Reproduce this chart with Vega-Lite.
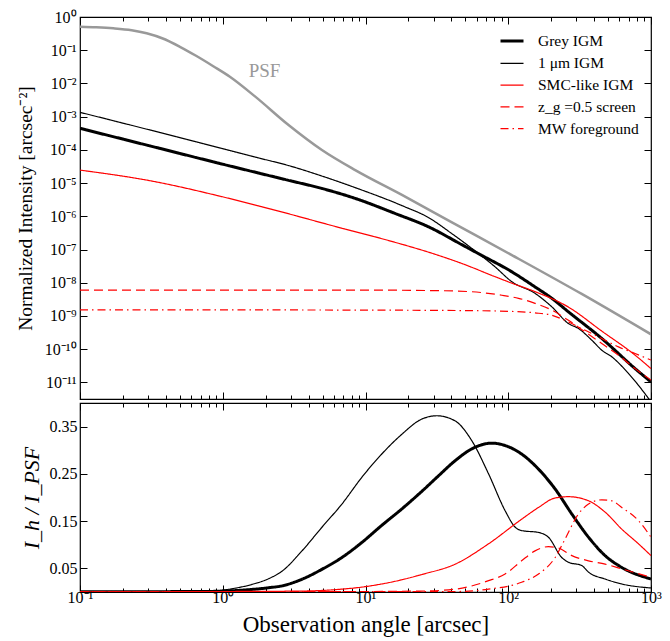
{
  "$schema": "https://vega.github.io/schema/vega-lite/v6.json",
  "padding": {"left": 14, "top": 8, "right": 20, "bottom": 5},
  "spacing": 0,
  "config": {
    "font": "Liberation Serif",
    "view": {"stroke": "black", "strokeWidth": 1.2},
    "axis": {"domainColor": "black", "domainWidth": 1.2, "tickColor": "black", "tickWidth": 1, "labelColor": "black", "titleColor": "black", "grid": false, "labelFont": "Liberation Serif", "titleFont": "Liberation Serif", "labelFontSize": 16, "titleFontWeight": "normal", "labelOverlap": false, "labelFlush": false},
    "legend": {"labelFont": "Liberation Serif"}
  },
  "datasets": {
    "top": [
      {"series": "PSF", "x": 0.1, "y": 0.51}, {"series": "PSF", "x": 0.13, "y": 0.49}, {"series": "PSF", "x": 0.171, "y": 0.457}, {"series": "PSF", "x": 0.23, "y": 0.40}, {"series": "PSF", "x": 0.293, "y": 0.323}, {"series": "PSF", "x": 0.38, "y": 0.225}, {"series": "PSF", "x": 0.501, "y": 0.127}, {"series": "PSF", "x": 0.65, "y": 0.068}, {"series": "PSF", "x": 0.858, "y": 0.033}, {"series": "PSF", "x": 1.122, "y": 0.0159}, {"series": "PSF", "x": 1.69, "y": 0.0040}, {"series": "PSF", "x": 2.89, "y": 5.6e-4}, {"series": "PSF", "x": 4.95, "y": 9.9e-5}, {"series": "PSF", "x": 8.47, "y": 2.46e-5}, {"series": "PSF", "x": 18, "y": 4.4e-6}, {"series": "PSF", "x": 40, "y": 6.7e-7}, {"series": "PSF", "x": 106, "y": 6.8e-8}, {"series": "PSF", "x": 327, "y": 4.6e-9}, {"series": "PSF", "x": 1000, "y": 2.8e-10},

      {"series": "Grey IGM", "x": 0.1, "y": 4.45e-4}, {"series": "Grey IGM", "x": 0.3, "y": 1.36e-4}, {"series": "Grey IGM", "x": 1, "y": 3.7e-5}, {"series": "Grey IGM", "x": 2.89, "y": 1.21e-5}, {"series": "Grey IGM", "x": 4.95, "y": 6.9e-6}, {"series": "Grey IGM", "x": 8.47, "y": 3.46e-6}, {"series": "Grey IGM", "x": 16.1, "y": 1.22e-6}, {"series": "Grey IGM", "x": 27.7, "y": 4.8e-7}, {"series": "Grey IGM", "x": 47.3, "y": 1.4e-7}, {"series": "Grey IGM", "x": 61.9, "y": 7.5e-8}, {"series": "Grey IGM", "x": 106, "y": 2.13e-8}, {"series": "Grey IGM", "x": 154, "y": 7.5e-9}, {"series": "Grey IGM", "x": 202, "y": 3.4e-9}, {"series": "Grey IGM", "x": 264, "y": 1.33e-9}, {"series": "Grey IGM", "x": 452, "y": 2.1e-10}, {"series": "Grey IGM", "x": 774, "y": 2.6e-11}, {"series": "Grey IGM", "x": 1000, "y": 1.03e-11},

      {"series": "1 μm IGM", "x": 0.1, "y": 1.35e-3}, {"series": "1 μm IGM", "x": 0.3, "y": 4.1e-4}, {"series": "1 μm IGM", "x": 1, "y": 1.09e-4}, {"series": "1 μm IGM", "x": 1.82, "y": 5.6e-5}, {"series": "1 μm IGM", "x": 2.89, "y": 3.37e-5}, {"series": "1 μm IGM", "x": 4.95, "y": 1.63e-5}, {"series": "1 μm IGM", "x": 8.47, "y": 7.3e-6}, {"series": "1 μm IGM", "x": 18, "y": 2.1e-6}, {"series": "1 μm IGM", "x": 27.7, "y": 9.1e-7}, {"series": "1 μm IGM", "x": 40.3, "y": 3.0e-7}, {"series": "1 μm IGM", "x": 55.6, "y": 1.08e-7}, {"series": "1 μm IGM", "x": 80.9, "y": 3.0e-8}, {"series": "1 μm IGM", "x": 106, "y": 1.07e-8}, {"series": "1 μm IGM", "x": 154, "y": 4.8e-9}, {"series": "1 μm IGM", "x": 202, "y": 1.88e-9}, {"series": "1 μm IGM", "x": 264, "y": 5.9e-10}, {"series": "1 μm IGM", "x": 310, "y": 4.2e-10}, {"series": "1 μm IGM", "x": 385, "y": 1.86e-10}, {"series": "1 μm IGM", "x": 452, "y": 9.3e-11}, {"series": "1 μm IGM", "x": 531, "y": 5.9e-11}, {"series": "1 μm IGM", "x": 695, "y": 1.86e-11}, {"series": "1 μm IGM", "x": 960, "y": 3.3e-12}, {"series": "1 μm IGM", "x": 1000, "y": 2.6e-12},

      {"series": "SMC-like IGM", "x": 0.1, "y": 2.46e-5}, {"series": "SMC-like IGM", "x": 0.319, "y": 1.15e-5}, {"series": "SMC-like IGM", "x": 0.987, "y": 3.9e-6}, {"series": "SMC-like IGM", "x": 2.21, "y": 1.62e-6}, {"series": "SMC-like IGM", "x": 6.3, "y": 4.8e-7}, {"series": "SMC-like IGM", "x": 16, "y": 1.66e-7}, {"series": "SMC-like IGM", "x": 27.7, "y": 8.3e-8}, {"series": "SMC-like IGM", "x": 47.3, "y": 3.8e-8}, {"series": "SMC-like IGM", "x": 80.9, "y": 1.52e-8}, {"series": "SMC-like IGM", "x": 106, "y": 9.7e-9}, {"series": "SMC-like IGM", "x": 154, "y": 5.4e-9}, {"series": "SMC-like IGM", "x": 264, "y": 1.85e-9}, {"series": "SMC-like IGM", "x": 452, "y": 3.5e-10}, {"series": "SMC-like IGM", "x": 774, "y": 6.6e-11}, {"series": "SMC-like IGM", "x": 1000, "y": 2.6e-11},

      {"series": "z_g =0.5 screen", "x": 0.1, "y": 6.0e-9}, {"series": "z_g =0.5 screen", "x": 1, "y": 6.0e-9}, {"series": "z_g =0.5 screen", "x": 10, "y": 6.0e-9}, {"series": "z_g =0.5 screen", "x": 30, "y": 5.8e-9}, {"series": "z_g =0.5 screen", "x": 53.8, "y": 5.4e-9}, {"series": "z_g =0.5 screen", "x": 90.2, "y": 4.2e-9}, {"series": "z_g =0.5 screen", "x": 118, "y": 3.4e-9}, {"series": "z_g =0.5 screen", "x": 154, "y": 2.4e-9}, {"series": "z_g =0.5 screen", "x": 202, "y": 1.5e-9}, {"series": "z_g =0.5 screen", "x": 264, "y": 7.4e-10}, {"series": "z_g =0.5 screen", "x": 346, "y": 3.3e-10}, {"series": "z_g =0.5 screen", "x": 452, "y": 1.48e-10}, {"series": "z_g =0.5 screen", "x": 592, "y": 6.6e-11}, {"series": "z_g =0.5 screen", "x": 774, "y": 2.6e-11}, {"series": "z_g =0.5 screen", "x": 1000, "y": 1.17e-11},

      {"series": "MW foreground", "x": 0.1, "y": 1.52e-9}, {"series": "MW foreground", "x": 1, "y": 1.52e-9}, {"series": "MW foreground", "x": 10, "y": 1.5e-9}, {"series": "MW foreground", "x": 50, "y": 1.45e-9}, {"series": "MW foreground", "x": 100, "y": 1.38e-9}, {"series": "MW foreground", "x": 154, "y": 1.24e-9}, {"series": "MW foreground", "x": 202, "y": 1.05e-9}, {"series": "MW foreground", "x": 264, "y": 6.6e-10}, {"series": "MW foreground", "x": 346, "y": 3.7e-10}, {"series": "MW foreground", "x": 452, "y": 2.1e-10}, {"series": "MW foreground", "x": 592, "y": 1.17e-10}, {"series": "MW foreground", "x": 774, "y": 7.4e-11}, {"series": "MW foreground", "x": 1000, "y": 4.7e-11}
    ],
    "bottom": [
      {"series": "Grey IGM", "x": 0.1, "r": 0.0005}, {"series": "Grey IGM", "x": 0.7, "r": 0.001}, {"series": "Grey IGM", "x": 1.22, "r": 0.003}, {"series": "Grey IGM", "x": 2.09, "r": 0.009}, {"series": "Grey IGM", "x": 2.6, "r": 0.013}, {"series": "Grey IGM", "x": 3.59, "r": 0.027}, {"series": "Grey IGM", "x": 4.95, "r": 0.048}, {"series": "Grey IGM", "x": 6.83, "r": 0.073}, {"series": "Grey IGM", "x": 9.44, "r": 0.105}, {"series": "Grey IGM", "x": 13, "r": 0.141}, {"series": "Grey IGM", "x": 18, "r": 0.176}, {"series": "Grey IGM", "x": 24.8, "r": 0.213}, {"series": "Grey IGM", "x": 32.5, "r": 0.246}, {"series": "Grey IGM", "x": 42.5, "r": 0.278}, {"series": "Grey IGM", "x": 55.6, "r": 0.303}, {"series": "Grey IGM", "x": 76.8, "r": 0.315}, {"series": "Grey IGM", "x": 95.1, "r": 0.310}, {"series": "Grey IGM", "x": 124, "r": 0.292}, {"series": "Grey IGM", "x": 163, "r": 0.260}, {"series": "Grey IGM", "x": 213, "r": 0.218}, {"series": "Grey IGM", "x": 279, "r": 0.165}, {"series": "Grey IGM", "x": 365, "r": 0.116}, {"series": "Grey IGM", "x": 477, "r": 0.077}, {"series": "Grey IGM", "x": 624, "r": 0.052}, {"series": "Grey IGM", "x": 1000, "r": 0.0275},

      {"series": "1 μm IGM", "x": 0.1, "r": 0.001}, {"series": "1 μm IGM", "x": 0.5, "r": 0.001}, {"series": "1 μm IGM", "x": 0.714, "r": 0.0015}, {"series": "1 μm IGM", "x": 1, "r": 0.004}, {"series": "1 μm IGM", "x": 1.22, "r": 0.008}, {"series": "1 μm IGM", "x": 1.6, "r": 0.016}, {"series": "1 μm IGM", "x": 2.09, "r": 0.028}, {"series": "1 μm IGM", "x": 2.6, "r": 0.044}, {"series": "1 μm IGM", "x": 3.59, "r": 0.087}, {"series": "1 μm IGM", "x": 4.95, "r": 0.137}, {"series": "1 μm IGM", "x": 6.83, "r": 0.186}, {"series": "1 μm IGM", "x": 9.44, "r": 0.243}, {"series": "1 μm IGM", "x": 13, "r": 0.292}, {"series": "1 μm IGM", "x": 18, "r": 0.334}, {"series": "1 μm IGM", "x": 24.8, "r": 0.366}, {"series": "1 μm IGM", "x": 31.6, "r": 0.373}, {"series": "1 μm IGM", "x": 42.5, "r": 0.362}, {"series": "1 μm IGM", "x": 55.6, "r": 0.320}, {"series": "1 μm IGM", "x": 72.8, "r": 0.250}, {"series": "1 μm IGM", "x": 95.1, "r": 0.172}, {"series": "1 μm IGM", "x": 112, "r": 0.137}, {"series": "1 μm IGM", "x": 124, "r": 0.130}, {"series": "1 μm IGM", "x": 163, "r": 0.126}, {"series": "1 μm IGM", "x": 191, "r": 0.116}, {"series": "1 μm IGM", "x": 237, "r": 0.073}, {"series": "1 μm IGM", "x": 264, "r": 0.063}, {"series": "1 μm IGM", "x": 327, "r": 0.056}, {"series": "1 μm IGM", "x": 365, "r": 0.042}, {"series": "1 μm IGM", "x": 477, "r": 0.0275}, {"series": "1 μm IGM", "x": 624, "r": 0.017}, {"series": "1 μm IGM", "x": 1000, "r": 0.0085},

      {"series": "SMC-like IGM", "x": 0.1, "r": 0.0003}, {"series": "SMC-like IGM", "x": 1, "r": 0.001}, {"series": "SMC-like IGM", "x": 3.59, "r": 0.002}, {"series": "SMC-like IGM", "x": 6.14, "r": 0.005}, {"series": "SMC-like IGM", "x": 9.95, "r": 0.0113}, {"series": "SMC-like IGM", "x": 18, "r": 0.026}, {"series": "SMC-like IGM", "x": 24.8, "r": 0.037}, {"series": "SMC-like IGM", "x": 42.5, "r": 0.059}, {"series": "SMC-like IGM", "x": 72.8, "r": 0.102}, {"series": "SMC-like IGM", "x": 124, "r": 0.154}, {"series": "SMC-like IGM", "x": 163, "r": 0.179}, {"series": "SMC-like IGM", "x": 213, "r": 0.199}, {"series": "SMC-like IGM", "x": 264, "r": 0.2017}, {"series": "SMC-like IGM", "x": 365, "r": 0.193}, {"series": "SMC-like IGM", "x": 477, "r": 0.169}, {"series": "SMC-like IGM", "x": 624, "r": 0.133}, {"series": "SMC-like IGM", "x": 817, "r": 0.102}, {"series": "SMC-like IGM", "x": 1000, "r": 0.077},

      {"series": "z_g =0.5 screen", "x": 0.1, "r": 0.0003}, {"series": "z_g =0.5 screen", "x": 10, "r": 0.001}, {"series": "z_g =0.5 screen", "x": 24.8, "r": 0.002}, {"series": "z_g =0.5 screen", "x": 42.5, "r": 0.006}, {"series": "z_g =0.5 screen", "x": 72.8, "r": 0.024}, {"series": "z_g =0.5 screen", "x": 95.1, "r": 0.038}, {"series": "z_g =0.5 screen", "x": 124, "r": 0.066}, {"series": "z_g =0.5 screen", "x": 154, "r": 0.087}, {"series": "z_g =0.5 screen", "x": 191, "r": 0.096}, {"series": "z_g =0.5 screen", "x": 225, "r": 0.093}, {"series": "z_g =0.5 screen", "x": 279, "r": 0.077}, {"series": "z_g =0.5 screen", "x": 365, "r": 0.066}, {"series": "z_g =0.5 screen", "x": 477, "r": 0.059}, {"series": "z_g =0.5 screen", "x": 624, "r": 0.049}, {"series": "z_g =0.5 screen", "x": 1000, "r": 0.031},

      {"series": "MW foreground", "x": 0.1, "r": 0.0003}, {"series": "MW foreground", "x": 42.5, "r": 0.001}, {"series": "MW foreground", "x": 72.8, "r": 0.006}, {"series": "MW foreground", "x": 124, "r": 0.0205}, {"series": "MW foreground", "x": 163, "r": 0.038}, {"series": "MW foreground", "x": 213, "r": 0.073}, {"series": "MW foreground", "x": 250, "r": 0.112}, {"series": "MW foreground", "x": 310, "r": 0.165}, {"series": "MW foreground", "x": 365, "r": 0.186}, {"series": "MW foreground", "x": 452, "r": 0.195}, {"series": "MW foreground", "x": 531, "r": 0.193}, {"series": "MW foreground", "x": 624, "r": 0.179}, {"series": "MW foreground", "x": 817, "r": 0.151}, {"series": "MW foreground", "x": 1000, "r": 0.116}
    ]
  },
  "resolve": {"legend": {"color": "independent", "strokeDash": "independent", "strokeWidth": "independent"}},
  "vconcat": [
    {
      "width": 571,
      "height": 382,
      "resolve": {"axis": {"x": "independent", "y": "independent"}},
      "layer": [
        {
          "data": {"name": "top"},
          "transform": [{"filter": "datum.series === 'PSF'"}],
          "mark": {"type": "line", "color": "#999999", "strokeWidth": 2.5, "interpolate": "monotone", "clip": true},
          "encoding": {
            "x": {"field": "x", "type": "quantitative", "scale": {"type": "log", "domain": [0.1, 1000], "nice": false},
              "axis": {"orient": "bottom", "title": null, "labels": false, "domain": false,
                "values": [0.1,0.2,0.3,0.4,0.5,0.6,0.7,0.8,0.9,1,2,3,4,5,6,7,8,9,10,20,30,40,50,60,70,80,90,100,200,300,400,500,600,700,800,900,1000],
                "tickSize": {"condition": {"test": "abs(log(datum.value)/LN10 - round(log(datum.value)/LN10)) < 0.001", "value": -7}, "value": -4}}},
            "y": {"field": "y", "type": "quantitative", "scale": {"type": "log", "domain": [3.1623e-12, 1], "nice": false},
              "axis": {"orient": "left", "title": "Normalized Intensity [arcsec⁻²]", "titleFontSize": 19.5, "titlePadding": 9, "domain": false,
                "values": [1,0.1,0.01,0.001,1e-4,1e-5,1e-6,1e-7,1e-8,1e-9,1e-10,1e-11],
                "tickSize": -7, "labelPadding": 11,
                "labelExpr": "['10⁰','10⁻¹','10⁻²','10⁻³','10⁻⁴','10⁻⁵','10⁻⁶','10⁻⁷','10⁻⁸','10⁻⁹','10⁻¹⁰','10⁻¹¹'][round(-log(datum.value)/LN10)]"}}
          }
        },
        {
          "data": {"name": "top"},
          "transform": [{"filter": "datum.series !== 'PSF'"}],
          "mark": {"type": "line", "interpolate": "monotone", "clip": true},
          "encoding": {
            "x": {"field": "x", "type": "quantitative", "scale": {"type": "log", "domain": [0.1, 1000], "nice": false},
              "axis": {"orient": "top", "title": null, "labels": false, "domain": false,
                "values": [0.1,0.2,0.3,0.4,0.5,0.6,0.7,0.8,0.9,1,2,3,4,5,6,7,8,9,10,20,30,40,50,60,70,80,90,100,200,300,400,500,600,700,800,900,1000],
                "tickSize": {"condition": {"test": "abs(log(datum.value)/LN10 - round(log(datum.value)/LN10)) < 0.001", "value": -7}, "value": -4}}},
            "y": {"field": "y", "type": "quantitative", "scale": {"type": "log", "domain": [3.1623e-12, 1], "nice": false},
              "axis": {"orient": "right", "title": null, "labels": false, "domain": false, "tickSize": -7,
                "values": [1,0.1,0.01,0.001,1e-4,1e-5,1e-6,1e-7,1e-8,1e-9,1e-10,1e-11]}},
            "color": {"field": "series", "type": "nominal",
              "scale": {"domain": ["Grey IGM", "1 μm IGM", "SMC-like IGM", "z_g =0.5 screen", "MW foreground"], "range": ["black", "black", "red", "red", "red"]},
              "legend": {"title": null, "orient": "top-right", "offset": 11, "padding": 0, "labelFontSize": 15.5, "labelFont": "Liberation Serif", "labelColor": "black", "symbolType": "stroke", "symbolSize": 529, "labelOffset": 13, "rowPadding": 0.8,
                "encode": {"symbols": {"update": {
                  "strokeWidth": {"signal": "datum.value === 'Grey IGM' ? 3 : 1.2"},
                  "stroke": {"signal": "datum.value === 'Grey IGM' || datum.value === '1 μm IGM' ? 'black' : 'red'"},
                  "strokeDash": {"signal": "datum.value === 'z_g =0.5 screen' ? [9, 5] : datum.value === 'MW foreground' ? [8, 4, 1.5, 4] : [1, 0]"}
                }}}}},
            "strokeDash": {"field": "series", "type": "nominal",
              "scale": {"domain": ["Grey IGM", "1 μm IGM", "SMC-like IGM", "z_g =0.5 screen", "MW foreground"], "range": [[1, 0], [1, 0], [1, 0], [9, 5], [8, 4, 1.5, 4]]},
              "legend": null},
            "strokeWidth": {"field": "series", "type": "nominal",
              "scale": {"type": "ordinal", "domain": ["Grey IGM", "1 μm IGM", "SMC-like IGM", "z_g =0.5 screen", "MW foreground"], "range": [3, 1.2, 1.2, 1.2, 1.2]},
              "legend": null}
          }
        },
        {
          "data": {"values": [{"x": 1.96, "y": 0.0229, "label": "PSF"}]},
          "mark": {"type": "text", "color": "#999999", "fontSize": 19, "font": "Liberation Serif", "align": "center", "baseline": "middle"},
          "encoding": {
            "x": {"field": "x", "type": "quantitative", "scale": {"type": "log", "domain": [0.1, 1000], "nice": false}, "axis": null},
            "y": {"field": "y", "type": "quantitative", "scale": {"type": "log", "domain": [3.1623e-12, 1], "nice": false}, "axis": null},
            "text": {"field": "label"}
          }
        }
      ]
    },
    {
      "width": 571,
      "height": 189,
      "resolve": {"axis": {"x": "independent", "y": "independent"}},
      "layer": [
        {
          "data": {"name": "bottom"},
          "mark": {"type": "line", "interpolate": "monotone", "clip": true},
          "encoding": {
            "x": {"field": "x", "type": "quantitative", "scale": {"type": "log", "domain": [0.1, 1000], "nice": false},
              "axis": {"orient": "bottom", "title": "Observation angle [arcsec]", "titleFontSize": 23, "titlePadding": 5, "domain": false,
                "values": [0.1,0.2,0.3,0.4,0.5,0.6,0.7,0.8,0.9,1,2,3,4,5,6,7,8,9,10,20,30,40,50,60,70,80,90,100,200,300,400,500,600,700,800,900,1000],
                "tickSize": {"condition": {"test": "abs(log(datum.value)/LN10 - round(log(datum.value)/LN10)) < 0.001", "value": -7}, "value": -4},
                "labelPadding": 4,
                "labelExpr": "abs(log(datum.value)/LN10 - round(log(datum.value)/LN10)) < 0.001 ? ['10⁻¹','10⁰','10¹','10²','10³'][round(log(datum.value)/LN10)+1] : ''"}},
            "y": {"field": "r", "type": "quantitative", "scale": {"domain": [0, 0.4], "nice": false, "zero": false},
              "axis": {"orient": "left", "title": "I_h / I_PSF", "titleFontSize": 22, "titleFontStyle": "italic", "titlePadding": 6, "domain": false,
                "values": [0.05, 0.15, 0.25, 0.35], "format": ".2f", "tickSize": -7, "labelPadding": 10}},
            "color": {"field": "series", "type": "nominal",
              "scale": {"domain": ["Grey IGM", "1 μm IGM", "SMC-like IGM", "z_g =0.5 screen", "MW foreground"], "range": ["black", "black", "red", "red", "red"]}, "legend": null},
            "strokeDash": {"field": "series", "type": "nominal",
              "scale": {"domain": ["Grey IGM", "1 μm IGM", "SMC-like IGM", "z_g =0.5 screen", "MW foreground"], "range": [[1, 0], [1, 0], [1, 0], [9, 5], [8, 4, 1.5, 4]]}, "legend": null},
            "strokeWidth": {"field": "series", "type": "nominal",
              "scale": {"type": "ordinal", "domain": ["Grey IGM", "1 μm IGM", "SMC-like IGM", "z_g =0.5 screen", "MW foreground"], "range": [3, 1.2, 1.2, 1.2, 1.2]}, "legend": null}
          }
        },
        {
          "data": {"name": "bottom"},
          "mark": {"type": "line", "opacity": 0},
          "encoding": {
            "x": {"field": "x", "type": "quantitative", "scale": {"type": "log", "domain": [0.1, 1000], "nice": false},
              "axis": {"orient": "top", "title": null, "labels": false, "domain": false,
                "values": [0.1,0.2,0.3,0.4,0.5,0.6,0.7,0.8,0.9,1,2,3,4,5,6,7,8,9,10,20,30,40,50,60,70,80,90,100,200,300,400,500,600,700,800,900,1000],
                "tickSize": {"condition": {"test": "abs(log(datum.value)/LN10 - round(log(datum.value)/LN10)) < 0.001", "value": -7}, "value": -4}}},
            "y": {"field": "r", "type": "quantitative", "scale": {"domain": [0, 0.4], "nice": false, "zero": false},
              "axis": {"orient": "right", "title": null, "labels": false, "domain": false, "tickSize": -7, "values": [0.05, 0.15, 0.25, 0.35]}},
            "detail": {"field": "series"}
          }
        }
      ]
    }
  ]
}
